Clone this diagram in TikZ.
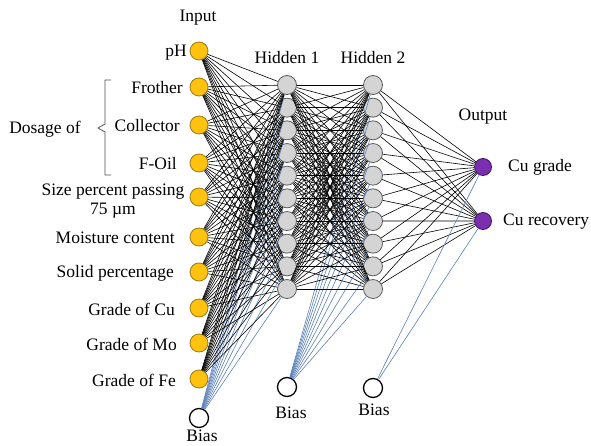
\documentclass[tikz,border=0pt]{standalone}
\usepackage{fontspec}
\setmainfont{Liberation Serif}

\definecolor{inyellow}{HTML}{FFC20E}
\definecolor{inborder}{HTML}{9C7A12}
\definecolor{hidgray}{HTML}{D4D4D4}
\definecolor{hidborder}{HTML}{5A5A5A}
\definecolor{outpurple}{HTML}{7A2FB0}
\definecolor{outborder}{HTML}{3E1560}
\definecolor{biasblue}{HTML}{5B80B8}

\begin{document}
\begin{tikzpicture}[x=1pt,y=-1pt,
    font=\fontsize{17.5}{19}\selectfont,
    neuron/.style={circle,minimum size=18pt,inner sep=0pt,line width=0.8pt},
    innode/.style={neuron,fill=inyellow,draw=inborder},
    hidnode/.style={neuron,minimum size=19pt,fill=hidgray,draw=hidborder},
    outnode/.style={neuron,minimum size=17pt,fill=outpurple,draw=outborder},
    biasnode/.style={neuron,minimum size=19pt,fill=white,draw=black,line width=1.3pt},
    txt/.style={inner sep=0pt},
    wire/.style={line width=0.6pt,black},
    biaswire/.style={line width=0.6pt,biasblue}]
    \useasboundingbox (0,0) rectangle (591,446);

    % 绘制输入层
    \foreach \y [count=\i] in {51,87,125,163,197,237,272,308,343,379}
        \node[innode] (in\i) at (199,\y) {};
    \node[biasnode] (b1) at (199,418) {};

    % 绘制两个隐藏层
    \foreach \i in {1,...,10} {
        \node[hidnode] (h\i) at (287,{85+(\i-1)*22.67}) {};
        \node[hidnode] (k\i) at (373,{85+(\i-1)*22.67}) {};
    }
    \node[biasnode] (b2) at (287,387) {};
    \node[biasnode] (b3) at (373,388) {};

    % 绘制输出层
    \node[outnode] (o1) at (483,167) {};
    \node[outnode] (o2) at (483,221) {};

    % 绘制连接线
    \foreach \i in {1,...,10} {
        \foreach \j in {1,...,10} {
            \draw[wire] (in\i) -- (h\j);
            \draw[wire] (h\i) -- (k\j);
        }
        \draw[biaswire] (b1) -- (h\i);
        \draw[biaswire] (b2) -- (k\i);
        \draw[wire] (k\i) -- (o1);
        \draw[wire] (k\i) -- (o2);
    }
    \draw[biaswire] (b3) -- (o1);
    \draw[biaswire] (b3) -- (o2);

    % 层标题
    \node[txt] (tin) at (198,18) {Input};
    \node[txt] (th1) at (287,58) {Hidden 1};
    \node[txt] (th2) at (373,58) {Hidden 2};
    \node[txt] (tout) at (483,117) {Output};
    \node[txt] (tb1) at (202,436) {Bias};
    \node[txt] (tb2) at (291,413) {Bias};
    \node[txt] (tb3) at (374,410) {Bias};

    % 输入变量名称
    \node[txt,anchor=east] (l1) at (187,53) {pH};
    \node[txt,anchor=east] (l2) at (183,88) {Frother};
    \node[txt,anchor=east] (l3) at (180,126) {Collector};
    \node[txt,anchor=east] (l4) at (177,164) {F-Oil};
    \node[txt,align=center] (l5) at (113,201) {Size percent passing\\75 µm};
    \node[txt,anchor=east] (l6) at (175,238) {Moisture content};
    \node[txt,anchor=east] (l7) at (174,273) {Solid percentage};
    \node[txt,anchor=east] (l8) at (175,309) {Grade of Cu};
    \node[txt,anchor=east] (l9) at (177,344) {Grade of Mo};
    \node[txt,anchor=east] (l10) at (176,380) {Grade of Fe};

    % 输出变量名称
    \node[txt,anchor=west] (r1) at (508,167) {Cu grade};
    \node[txt,anchor=west] (r2) at (503,222) {Cu recovery};

    % 绘制括号
    \node[txt] (dos) at (45,129) {Dosage of};
    \draw[gray!60!black,line width=0.7pt]
        (111,80) -- (105,80) -- (105,124) -- (98,128) -- (105,132) -- (105,175) -- (111,175);
\end{tikzpicture}
\end{document}
